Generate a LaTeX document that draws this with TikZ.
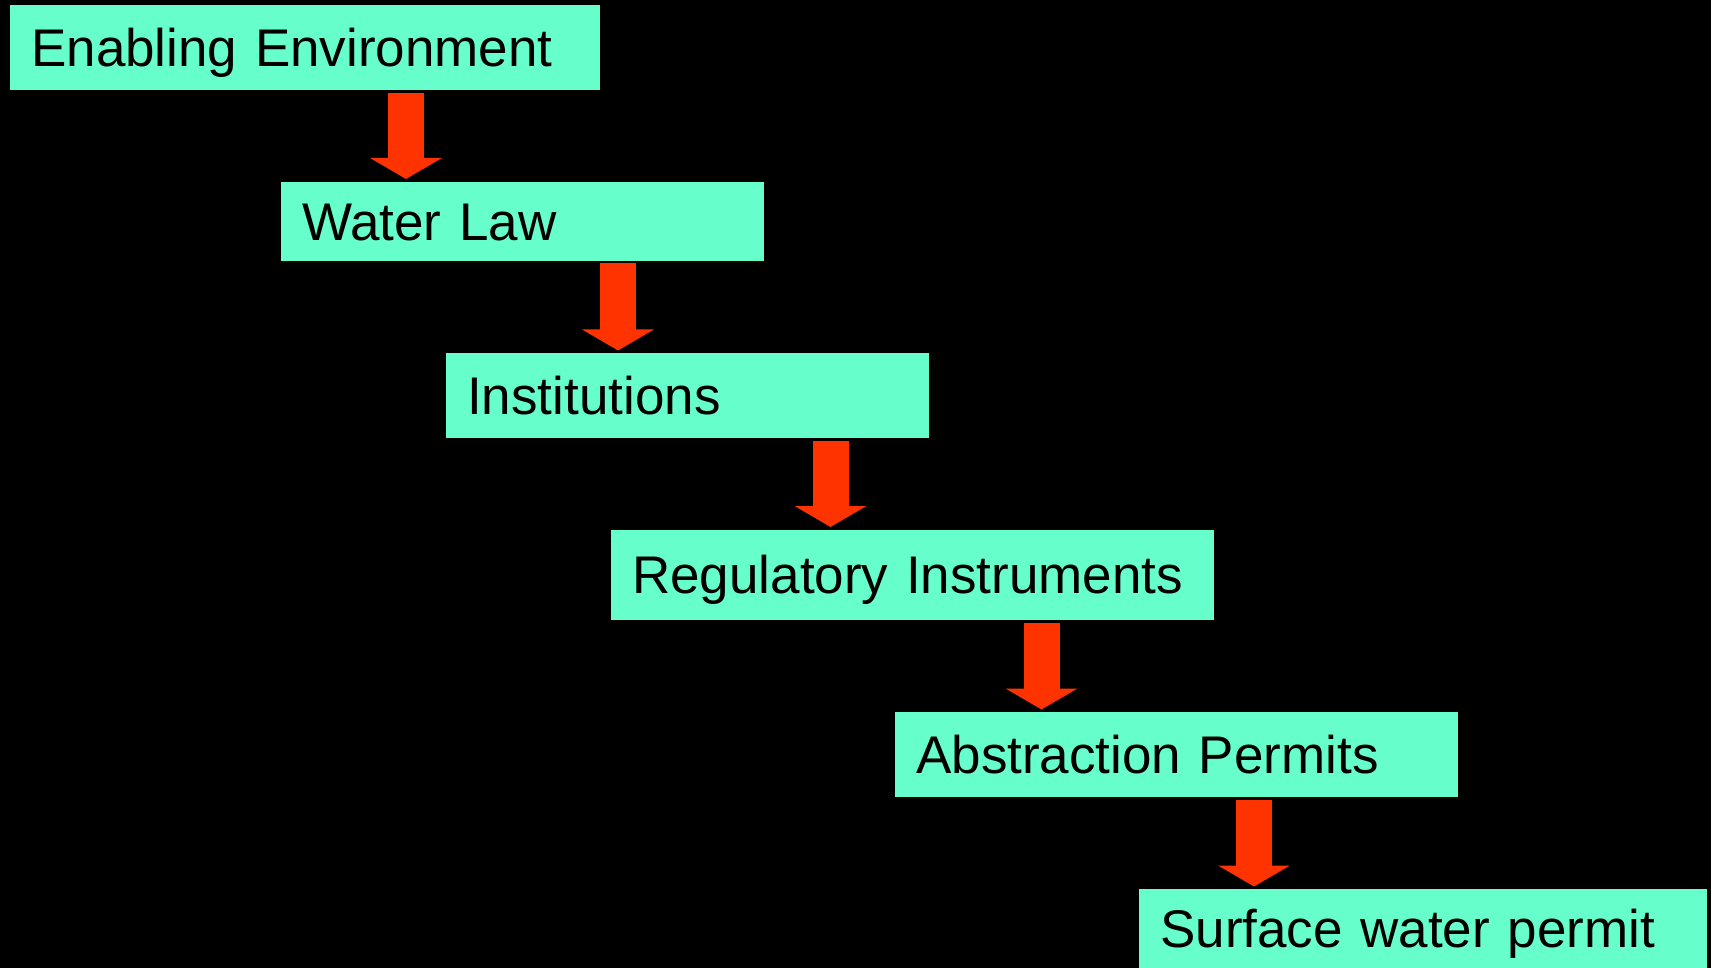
\documentclass[tikz,border=0pt]{standalone}
\usepackage{fontspec}
\setmainfont{Liberation Sans}
\usetikzlibrary{arrows.meta}
\definecolor{boxfill}{HTML}{66FFCC}
\definecolor{arrowred}{HTML}{FF3300}
\tikzset{
  stagebox/.style={fill=boxfill, draw=none, anchor=north west, inner xsep=21pt, inner ysep=0pt,
    text height=38pt, text depth=0pt, align=left, font=\fontsize{53}{60}\selectfont, text=black},
  bigarrow/.style={draw=arrowred, line width=36pt, -{Triangle[width=71pt,length=21pt]}, arrowred}
}
\begin{document}
\begin{tikzpicture}[x=1pt,y=-1pt]
\fill[black] (0,0) rectangle (1711,968);
\useasboundingbox (0,0) rectangle (1711,968);
\node[stagebox, minimum height=85pt, text width=548pt] (b1) at (10,4.7) {Enabling Environment};
\node[stagebox, minimum height=79pt, text width=441pt] (b2) at (281,181.5) {Water Law};
\node[stagebox, minimum height=85pt, text width=441pt] (b3) at (446,353) {Institutions};
\node[stagebox, minimum height=90pt, text width=561pt] (b4) at (611,529.5) {Regulatory Instruments};
\node[stagebox, minimum height=85pt, text width=521pt] (b5) at (895,712) {Abstraction Permits};
\node[stagebox, minimum height=79pt, text width=526pt] (b6) at (1139,889) {Surface water permit};
\draw[bigarrow] ([xshift=396pt,yshift=-2.5pt]b1.south west) -- ([xshift=125pt,yshift=2.5pt]b2.north west);
\draw[bigarrow] ([xshift=337pt,yshift=-2.5pt]b2.south west) -- ([xshift=172pt,yshift=2.5pt]b3.north west);
\draw[bigarrow] ([xshift=384.5pt,yshift=-3pt]b3.south west) -- ([xshift=219.5pt,yshift=2.5pt]b4.north west);
\draw[bigarrow] ([xshift=430.5pt,yshift=-3pt]b4.south west) -- ([xshift=146.5pt,yshift=2.5pt]b5.north west);
\draw[bigarrow] ([xshift=359pt,yshift=-3pt]b5.south west) -- ([xshift=115pt,yshift=2.5pt]b6.north west);
\end{tikzpicture}
\end{document}
